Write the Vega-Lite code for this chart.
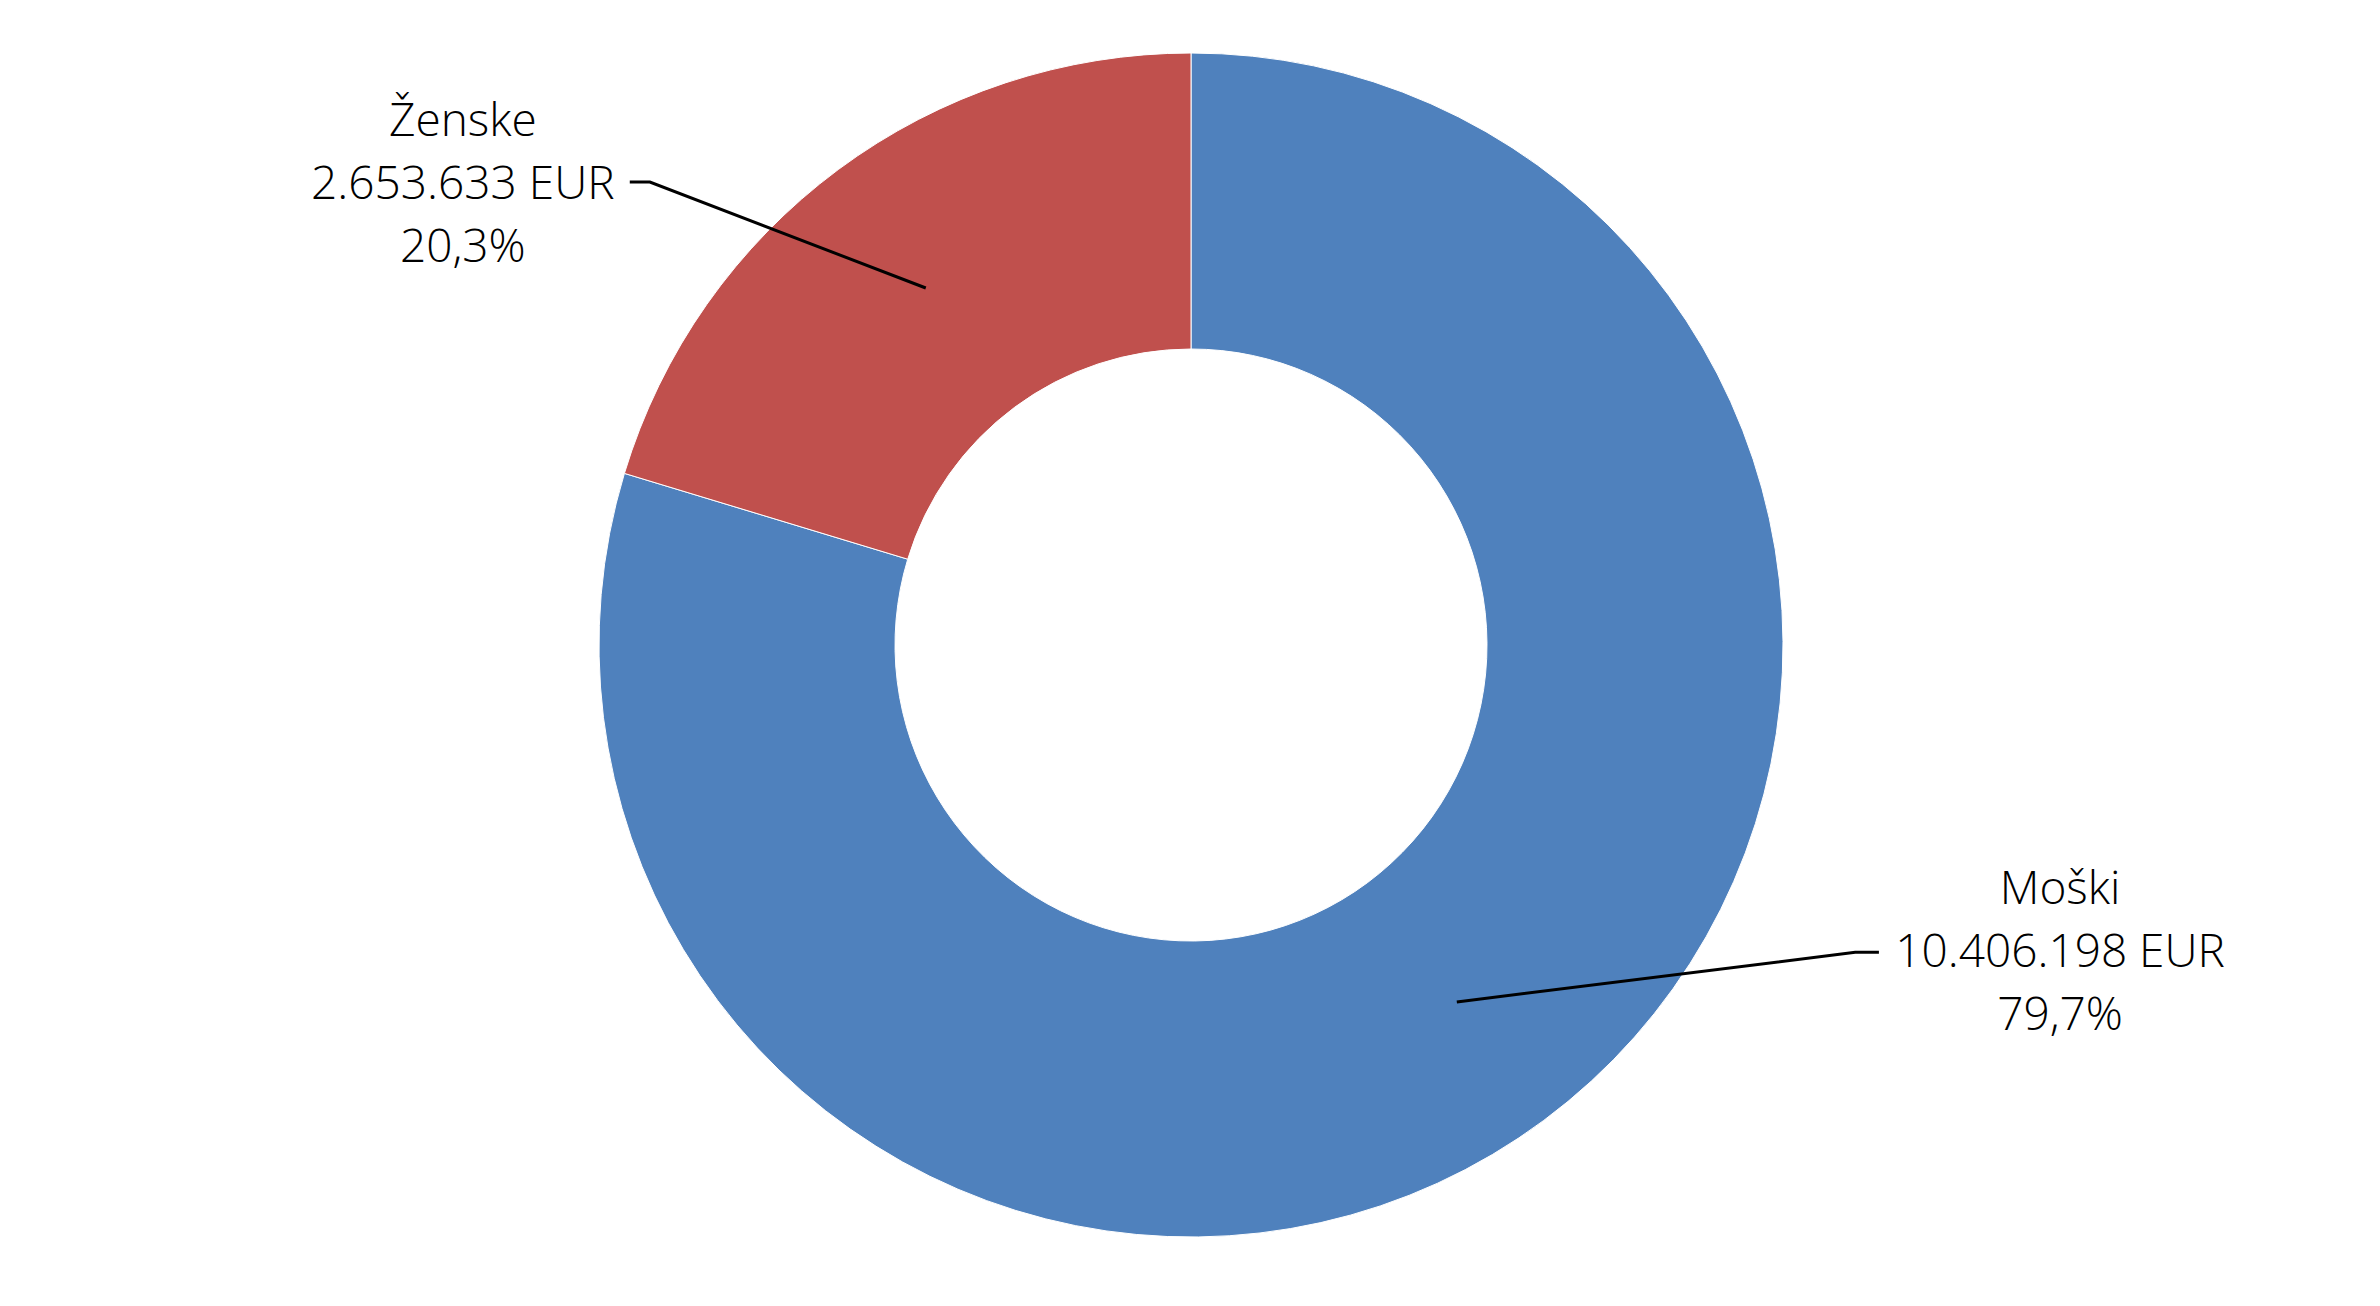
{
  "$schema": "https://vega.github.io/schema/vega-lite/v6.json",
  "width": 2382,
  "height": 1290,
  "autosize": "none",
  "padding": 0,
  "background": "white",
  "config": {"view": {"stroke": null}},
  "datasets": {
    "slices": [
      {"spol": "Moški", "znesek": 10406198, "ord": 1},
      {"spol": "Ženske", "znesek": 2653633, "ord": 2}
    ],
    "leaders": [
      {"spol": "Ženske", "k": 1, "lx": -0.948, "ly": 0.782},
      {"spol": "Ženske", "k": 2, "lx": -0.914, "ly": 0.782},
      {"spol": "Ženske", "k": 3, "lx": -0.448, "ly": 0.603},
      {"spol": "Moški", "k": 1, "lx": 0.449, "ly": -0.603},
      {"spol": "Moški", "k": 2, "lx": 1.122, "ly": -0.519},
      {"spol": "Moški", "k": 3, "lx": 1.162, "ly": -0.519}
    ],
    "labels": [
      {"spol": "Ženske", "label": "Ženske\n2.653.633 EUR\n20,3%", "lx": -1.230, "ly": 0.884},
      {"spol": "Moški", "label": "Moški\n10.406.198 EUR\n79,7%", "lx": 1.468, "ly": -0.414}
    ]
  },
  "layer": [
    {
      "data": {"name": "slices"},
      "mark": {"type": "arc", "outerRadius": 592, "innerRadius": 296, "stroke": "white", "strokeWidth": 1},
      "encoding": {
        "theta": {"field": "znesek", "type": "quantitative", "stack": true},
        "order": {"field": "ord", "type": "quantitative"},
        "color": {
          "field": "spol",
          "type": "nominal",
          "scale": {"domain": ["Moški", "Ženske"], "range": ["#4F81BD", "#C0504D"]},
          "legend": null
        }
      }
    },
    {
      "data": {"name": "leaders"},
      "mark": {"type": "line", "color": "black", "strokeWidth": 3},
      "encoding": {
        "x": {"field": "lx", "type": "quantitative", "scale": {"domain": [-2.0118, 2.0118], "nice": false, "zero": false}, "axis": null},
        "y": {"field": "ly", "type": "quantitative", "scale": {"domain": [-1.0895, 1.0895], "nice": false, "zero": false}, "axis": null},
        "detail": {"field": "spol", "type": "nominal"},
        "order": {"field": "k", "type": "quantitative"}
      }
    },
    {
      "data": {"name": "labels"},
      "mark": {"type": "text", "font": "Open Sans", "fontWeight": 300, "fontSize": 46, "lineHeight": 63, "lineBreak": "\n", "align": "center", "baseline": "middle", "color": "black"},
      "encoding": {
        "x": {"field": "lx", "type": "quantitative", "scale": {"domain": [-2.0118, 2.0118], "nice": false, "zero": false}, "axis": null},
        "y": {"field": "ly", "type": "quantitative", "scale": {"domain": [-1.0895, 1.0895], "nice": false, "zero": false}, "axis": null},
        "text": {"field": "label", "type": "nominal"}
      }
    }
  ]
}
